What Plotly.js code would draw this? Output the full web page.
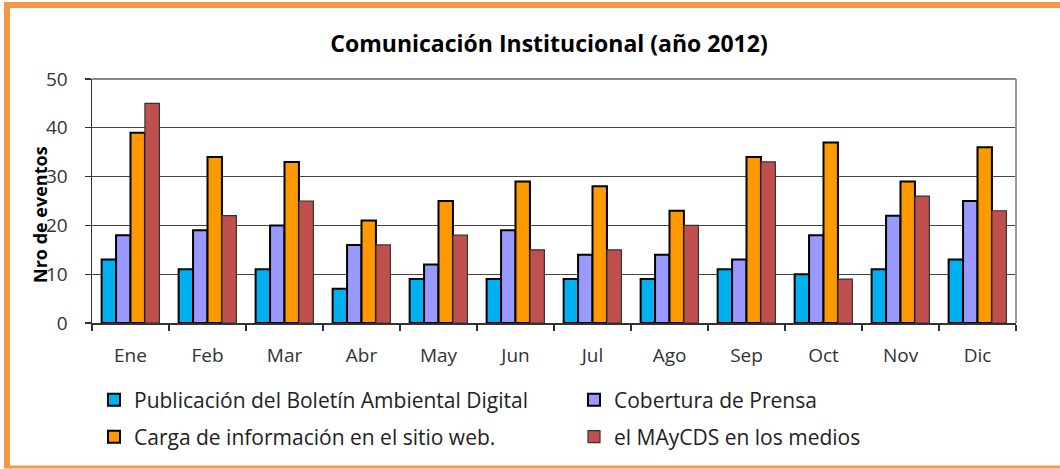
<!DOCTYPE html>
<html>
<head>
<meta charset="utf-8">
<script src="https://cdn.plot.ly/plotly-3.0.1.min.js"></script>
<style>
html,body{margin:0;padding:0;background:#fff;}
#chart{width:1060px;height:469px;}
</style>
</head>
<body>
<div id="chart"></div>
<script>
const months = ["Ene","Feb","Mar","Abr","May","Jun","Jul","Ago","Sep","Oct","Nov","Dic"];
const seriesNames = [
  "Publicación del Boletín Ambiental Digital",
  "Cobertura de Prensa",
  "Carga de información en el sitio web.",
  "el MAyCDS en los medios"
];
const boletin   = [13,11,11,7,9,9,9,9,11,10,11,13];
const prensa    = [18,19,20,16,12,19,14,14,13,18,22,25];
const cargaWeb  = [39,34,33,21,25,29,28,23,34,37,29,36];
const medios    = [45,22,25,16,18,15,15,20,33,9,26,23];

const colors = ["#00B0F0","#9999FF","#FF9900","#C0504D"];
const lineColors = ["#000000","#000000","#000000","#333333"];
const lineWidths = [2,2,2,1.2];
const legendIds = ["legend","legend2","legend3","legend4"];
const values = [boletin, prensa, cargaWeb, medios];

const FONT = "Open Sans, Liberation Sans, sans-serif";

const traces = values.map((v,i)=>({
  type:"bar",
  name: seriesNames[i],
  x: months,
  y: v,
  legend: legendIds[i],
  marker:{color:colors[i], line:{color:lineColors[i], width:lineWidths[i]}},
  hoverinfo:"x+y+name"
}));

// plot area pixel geometry
const L=92, R=1016, T=79, B=323, W=1060, H=469;
const pw=R-L, ph=B-T;
const px = x => (x-L)/pw;
const py = y => (B-y)/ph;

function legendAt(xPix, yPix){
  return {
    orientation:"v", x:px(xPix), xanchor:"left", y:py(yPix), yanchor:"middle",
    font:{family:FONT, size:21, color:"#222"},
    bgcolor:"rgba(0,0,0,0)", borderwidth:0
  };
}

const layout = {
  width:W, height:H,
  margin:{l:L, r:W-R, t:T, b:H-B, pad:0},
  paper_bgcolor:"#ffffff",
  plot_bgcolor:"#ffffff",
  font:{family:FONT, color:"#222"},
  barmode:"group",
  bargap:0.25,
  bargroupgap:0,
  showlegend:true,
  title:{
    text:"Comunicación Institucional (año 2012)",
    font:{family:FONT, size:23, color:"#000", weight:"bold"},
    xref:"paper", x:px(549), xanchor:"center",
    yref:"container", y:1-44/H, yanchor:"middle"
  },
  xaxis:{
    type:"category",
    showline:true, linecolor:"#333", linewidth:1.5,
    ticks:"outside", tickson:"boundaries", ticklen:6, tickcolor:"#333", tickwidth:1.2,
    tickfont:{family:FONT, size:19, color:"#333"},
    ticklabelstandoff:15,
    showgrid:false, zeroline:false, fixedrange:true
  },
  yaxis:{
    range:[0,50], dtick:10, tick0:0,
    showline:true, linecolor:"#333", linewidth:1.5,
    ticks:"outside", ticklen:6, tickcolor:"#333", tickwidth:1.2,
    tickfont:{family:FONT, size:19, color:"#333"},
    ticklabelstandoff:13,
    showgrid:true, gridcolor:"#444", gridwidth:1.2,
    zeroline:false, fixedrange:true
  },
  legend:  legendAt(94, 400),
  legend2: legendAt(574, 400),
  legend3: legendAt(94, 437),
  legend4: legendAt(574, 437),
  annotations:[{
    text:"Nro de eventos", textangle:-90,
    xref:"paper", yref:"paper", x:px(40), y:py(215),
    xanchor:"center", yanchor:"middle", showarrow:false,
    font:{family:FONT, size:18, color:"#000", weight:"bold"}
  }],
  shapes:[
    {type:"line", xref:"paper", yref:"paper", x0:0, x1:1, y0:1, y1:1, line:{color:"#888", width:2}},
    {type:"line", xref:"paper", yref:"paper", x0:1, x1:1, y0:0, y1:1, line:{color:"#999", width:2}},
    {type:"line", xref:"paper", yref:"paper", x0:px(7), x1:px(7), y0:py(2), y1:py(468), line:{color:"#F79646", width:6}},
    {type:"line", xref:"paper", yref:"paper", x0:px(4), x1:px(1062), y0:py(5), y1:py(5), line:{color:"#F79646", width:6}},
    {type:"line", xref:"paper", yref:"paper", x0:px(4), x1:px(1062), y0:py(467), y1:py(467), line:{color:"#F79646", width:3}}
  ]
};

Plotly.newPlot("chart", traces, layout, {displayModeBar:false, staticPlot:true});
</script>
</body>
</html>
